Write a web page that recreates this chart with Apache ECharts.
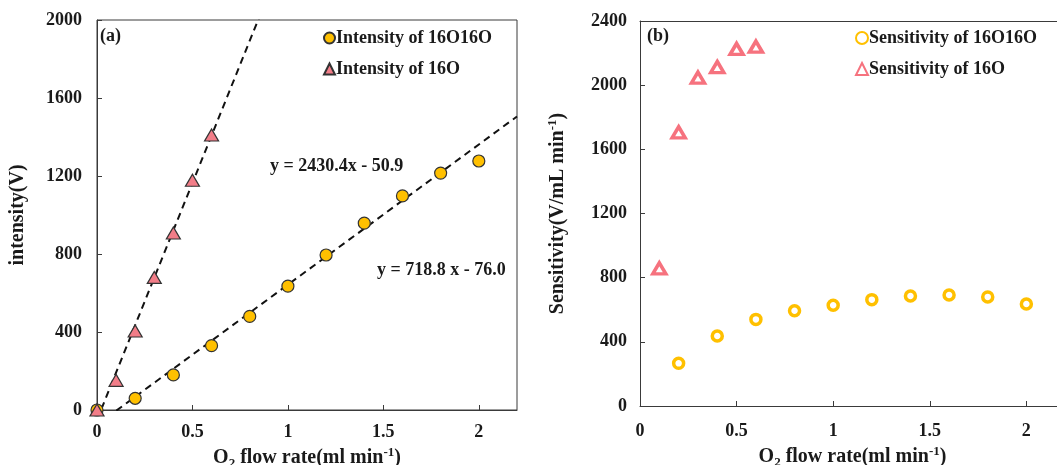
<!DOCTYPE html>
<html>
<head>
<meta charset="utf-8">
<script src="https://cdn.jsdelivr.net/npm/echarts@6/dist/echarts.min.js"></script>
<style>
html,body{margin:0;padding:0;background:#fff;overflow:hidden;}
#chart{width:1057px;height:465px;}
</style>
</head>
<body>
<div id="chart"></div>
<script>
// ---- Data ----
const flowO2 = [0, 0.2, 0.4, 0.6, 0.8, 1.0, 1.2, 1.4, 1.6, 1.8, 2.0];
const intensity16O16O = [0, 60, 180, 330, 480, 635, 795, 958, 1098, 1215, 1277];
const flowO = [0, 0.1, 0.2, 0.3, 0.4, 0.5, 0.6];
const intensity16O = [0, 152, 405, 680, 908, 1178, 1410];

const sensFlowO2 = [0.2, 0.4, 0.6, 0.8, 1.0, 1.2, 1.4, 1.6, 1.8, 2.0];
const sensitivity16O16O = [266, 436, 540, 594, 628, 663, 686, 692, 680, 636];
const sensFlowO = [0.1, 0.2, 0.3, 0.4, 0.5, 0.6];
const sensitivity16O = [858, 1706, 2047, 2113, 2226, 2240];

// trend lines: [slope, intercept]
const fit16O = [2430.4, -50.9];
const fit16O16O = [718.8, -76.0];
const fitRange = [0, 2.2];

const xTicks = ['0', '0.5', '1', '1.5', '2'];
const leftYTicks = [0, 400, 800, 1200, 1600, 2000];
const rightYTicks = [0, 400, 800, 1200, 1600, 2000, 2400];

const legendNames = ['Intensity of 16O16O', 'Intensity of 16O', 'Sensitivity of 16O16O', 'Sensitivity of 16O'];
const eqTexts = ['y = 2430.4x - 50.9', 'y = 718.8 x - 76.0'];

// ---- Styles ----
const FF = '"Liberation Serif", "Times New Roman", serif';
const TXT = '#1a1a1a';
const AX = '#3a3a3a';
const YEL = '#FFC000';
const PINK = '#F27D88';
const PINK2 = '#F6727E';

function zip(xs, ys) { return xs.map((x, i) => [x, ys[i]]); }
function fitLine(f) { return fitRange.map(x => [x, f[0] * x + f[1]]); }

const nameRich = {
  b: {fontFamily: FF, fontWeight: 'bold', fontSize: 20, color: TXT, lineHeight: 24, verticalAlign: 'middle'},
  s: {fontFamily: FF, fontWeight: 'bold', fontSize: 13, color: TXT, lineHeight: 24, verticalAlign: 'bottom'},
  p: {fontFamily: FF, fontWeight: 'bold', fontSize: 13, color: TXT, lineHeight: 24, verticalAlign: 'top'}
};
const xName = '{b|O}{s|2}{b| flow rate(ml min}{p|-1}{b|)}';

function xAxis(gi, gap, margin) {
  return {
    type: 'value', gridIndex: gi, min: 0, max: 2.2, interval: 0.5,
    name: xName, nameLocation: 'middle', nameGap: gap,
    nameTextStyle: {rich: nameRich},
    axisLine: {show: true, lineStyle: {color: AX, width: 1}},
    axisTick: {show: true, inside: true, length: 5, lineStyle: {color: AX}},
    splitLine: {show: false},
    axisLabel: {
      showMaxLabel: false, margin: margin,
      fontFamily: FF, fontWeight: 'bold', fontSize: 18, color: TXT,
      formatter: v => { const i = Math.round(v / 0.5); return Math.abs(v - i * 0.5) < 1e-9 && xTicks[i] !== undefined ? xTicks[i] : ''; }
    }
  };
}
function yAxis(gi, ticks, name, gap, margin) {
  return {
    type: 'value', gridIndex: gi, min: ticks[0], max: ticks[ticks.length - 1], interval: ticks[1] - ticks[0],
    name: name, nameLocation: 'middle', nameGap: gap,
    nameTextStyle: {rich: nameRich},
    axisLine: {show: true, lineStyle: {color: AX, width: 1}},
    axisTick: {show: true, inside: true, length: 5, lineStyle: {color: AX}},
    splitLine: {show: false},
    axisLabel: {margin: margin, fontFamily: FF, fontWeight: 'bold', fontSize: 18, color: TXT,
      formatter: v => String(v)}
  };
}

const chart = echarts.init(document.getElementById('chart'), null, {renderer: 'canvas'});
chart.setOption({
  backgroundColor: '#fff',
  animation: false,
  grid: [
    {left: 97, top: 20, width: 420, height: 390, show: true, borderColor: AX, borderWidth: 1, backgroundColor: 'transparent', outerBoundsMode: 'none', containLabel: false},
    {left: 640, top: 21, width: 425, height: 385, show: false, outerBoundsMode: 'none', containLabel: false}
  ],
  xAxis: [
    xAxis(0, 26, 13),
    xAxis(1, 30, 16),
    {type: 'value', gridIndex: 1, position: 'top', min: 0, max: 2.2,
     axisLine: {show: true, lineStyle: {color: AX, width: 1}},
     axisTick: {show: false}, axisLabel: {show: false}, splitLine: {show: false}}
  ],
  yAxis: [
    yAxis(0, leftYTicks, '{b|intensity(V)}', 67, 15),
    yAxis(1, rightYTicks, '{b|Sensitivity(V/mL min}{p|-1}{b|)}', 70, 13)
  ],
  legend: [
    {
      data: [legendNames[0], legendNames[1]], orient: 'vertical', left: 318, top: 24,
      itemWidth: 11, itemHeight: 11, itemGap: 13,
      textStyle: {fontFamily: FF, fontWeight: 'bold', fontSize: 18, color: TXT, padding: [0, 0, 0, -4]}
    },
    {
      data: [legendNames[2], legendNames[3]], orient: 'vertical', left: 850, top: 24,
      itemWidth: 12, itemHeight: 12, itemGap: 13,
      textStyle: {fontFamily: FF, fontWeight: 'bold', fontSize: 18, color: TXT, padding: [0, 0, 0, -4]}
    }
  ],
  graphic: [
    {type: 'text', left: 100, top: 27, style: {text: '(a)', font: 'bold 18px ' + FF, fill: TXT}},
    {type: 'text', left: 647, top: 27, style: {text: '(b)', font: 'bold 18px ' + FF, fill: TXT}},
    {type: 'text', left: 270, top: 157, style: {text: eqTexts[0], font: 'bold 18px ' + FF, fill: TXT}},
    {type: 'text', left: 377, top: 261, style: {text: eqTexts[1], font: 'bold 18px ' + FF, fill: TXT}}
  ],
  series: [
    {
      name: 'fit16O', type: 'line', xAxisIndex: 0, yAxisIndex: 0, data: fitLine(fit16O),
      symbol: 'none', clip: true, silent: true, z: 1,
      lineStyle: {color: '#111', width: 2, type: [7, 5]}
    },
    {
      name: 'fit16O16O', type: 'line', xAxisIndex: 0, yAxisIndex: 0, data: fitLine(fit16O16O),
      symbol: 'none', clip: true, silent: true, z: 1,
      lineStyle: {color: '#111', width: 2, type: [7, 5]}
    },
    {
      name: legendNames[0], type: 'scatter', xAxisIndex: 0, yAxisIndex: 0, data: zip(flowO2, intensity16O16O),
      symbol: 'circle', symbolSize: 12, z: 3,
      itemStyle: {color: YEL, borderColor: '#333', borderWidth: 1.2, opacity: 1}
    },
    {
      name: legendNames[1], type: 'scatter', xAxisIndex: 0, yAxisIndex: 0, data: zip(flowO, intensity16O),
      symbol: 'triangle', symbolSize: [14, 12], z: 3,
      itemStyle: {color: PINK, borderColor: '#333', borderWidth: 1.2, opacity: 1}
    },
    {
      name: legendNames[2], type: 'scatter', xAxisIndex: 1, yAxisIndex: 1, data: zip(sensFlowO2, sensitivity16O16O),
      symbol: 'circle', symbolSize: 10, z: 3,
      itemStyle: {color: '#fff', borderColor: YEL, borderWidth: 3.5, opacity: 1}
    },
    {
      name: legendNames[3], type: 'scatter', xAxisIndex: 1, yAxisIndex: 1, data: zip(sensFlowO, sensitivity16O),
      symbol: 'triangle', symbolSize: [13, 11], z: 3,
      itemStyle: {color: '#fff', borderColor: PINK2, borderWidth: 3.5, opacity: 1}
    }
  ]
});
</script>
</body>
</html>
